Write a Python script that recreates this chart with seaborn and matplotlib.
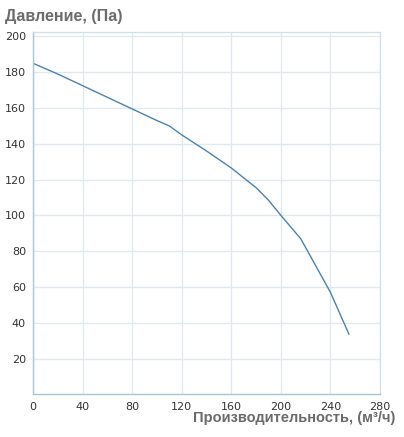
import numpy as np
import pandas as pd
import matplotlib
matplotlib.use("Agg")
import matplotlib.pyplot as plt
import seaborn as sns

# fan curve
flow = [0, 20, 40, 60, 80, 100, 110, 120, 140, 160, 180, 190, 200, 216, 240, 255]
pressure = [185, 179, 172.5, 166, 159.5, 153, 150, 145, 136, 126.5, 115.5, 108.5, 100, 87, 57, 33.5]

x_ticks = [0, 40, 80, 120, 160, 200, 240, 280]
y_ticks = [20, 40, 60, 80, 100, 120, 140, 160, 180, 200]

df = pd.DataFrame({"flow": flow, "pressure": pressure})

sns.set_style("white")
plt.rcParams["font.family"] = ["DejaVu Sans"]

fig = plt.figure(figsize=(4.04, 4.37), dpi=100)
ax = fig.add_axes([0.0817, 0.0977, 0.8589, 0.8291])

sns.lineplot(data=df, x="flow", y="pressure", ax=ax, color="#4d82ad", linewidth=1.0)

ax.set_xlim(0, 280)
ax.set_ylim(0, 202.5)
ax.set_xticks(x_ticks)
ax.set_yticks(y_ticks)
ax.grid(True, color="#dfe9ef", linewidth=0.9)
ax.set_axisbelow(True)

for side in ["top", "right"]:
    ax.spines[side].set_color("#cfe0e8")
    ax.spines[side].set_linewidth(0.9)
for side in ["left", "bottom"]:
    ax.spines[side].set_color("#a9c6d8")
    ax.spines[side].set_linewidth(1.0)

ax.tick_params(axis="both", labelsize=8, colors="#a9c6d8", labelcolor="#333333",
               length=3, width=1)
ax.tick_params(axis="x", direction="inout", pad=4)
ax.tick_params(axis="y", direction="out", pad=2)

ax.set_xlabel("")
ax.set_ylabel("")

fig.text(0.012, 0.962, "Давление, (Па)", fontsize=11.5, fontweight="bold",
         family=["Liberation Sans", "DejaVu Sans"],
         color="#6b6b6b", ha="left", va="center")
fig.text(0.978, 0.043, "Производительность, (м³/ч)", fontsize=10.5, fontweight="bold",
         family=["Liberation Sans", "DejaVu Sans"],
         color="#6b6b6b", ha="right", va="center")

fig.savefig("out.png", dpi=100)
